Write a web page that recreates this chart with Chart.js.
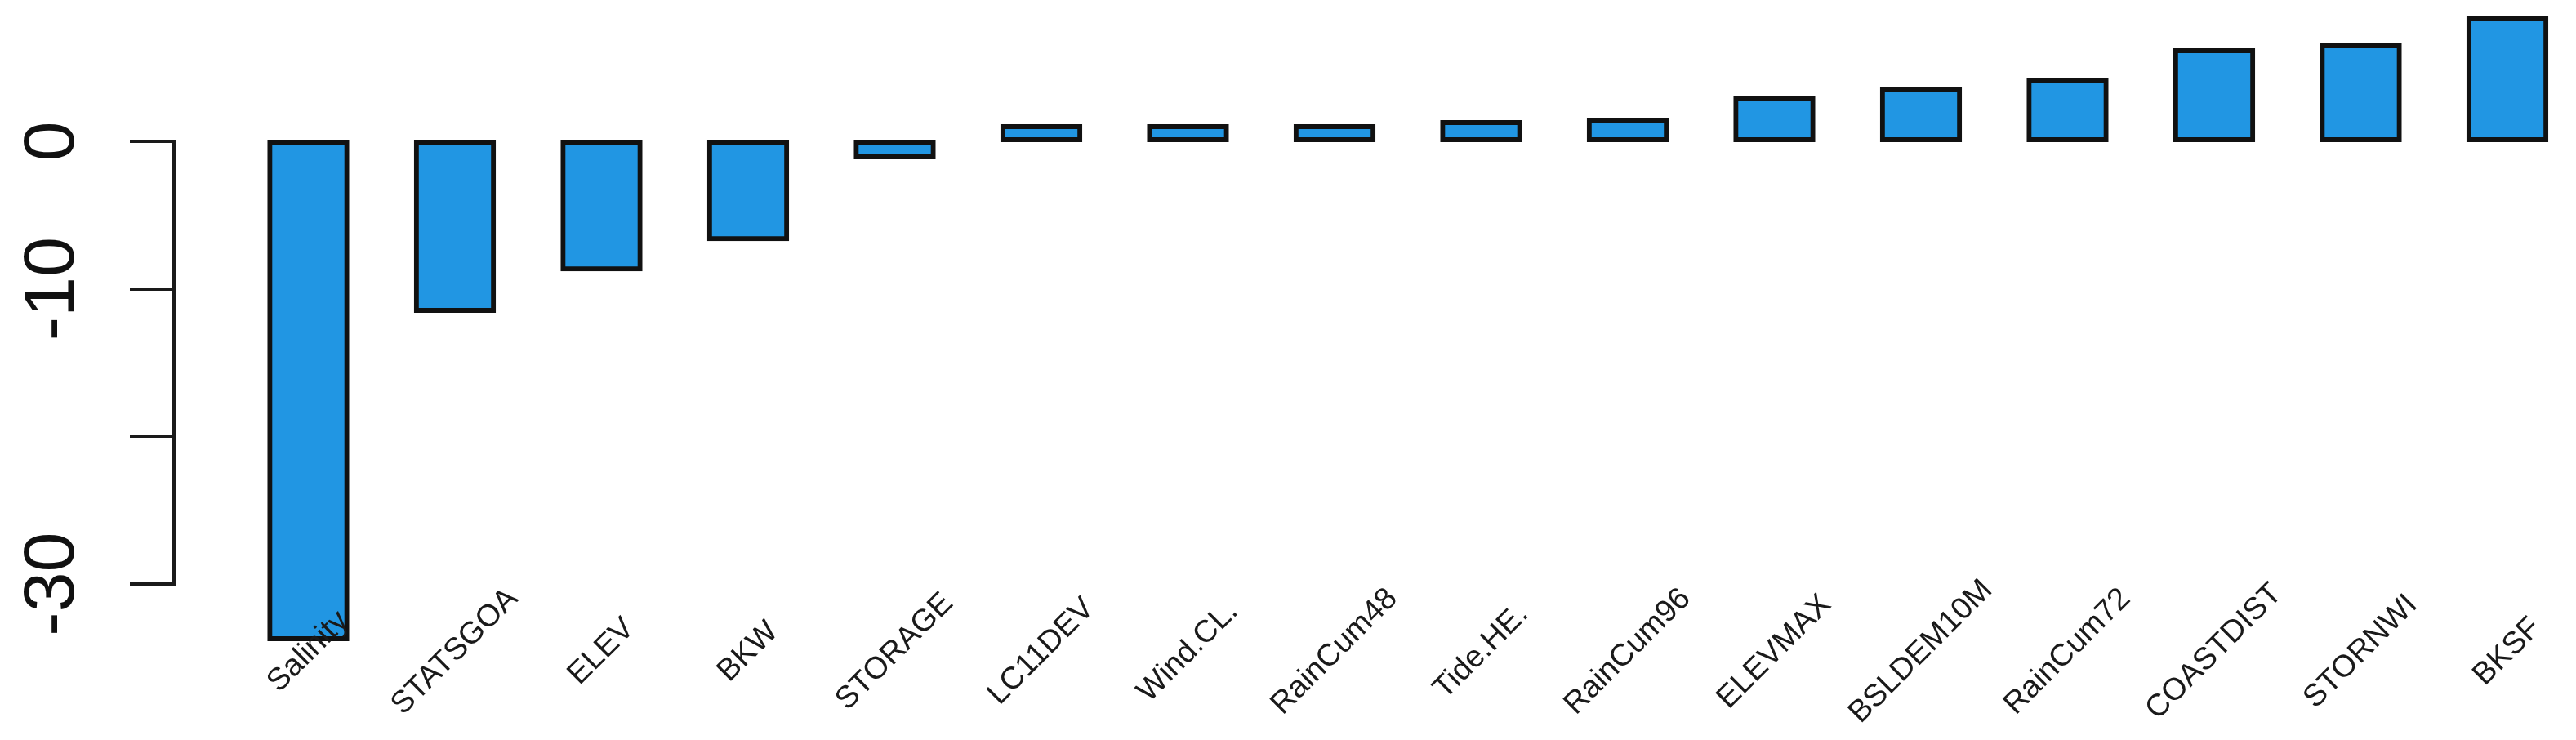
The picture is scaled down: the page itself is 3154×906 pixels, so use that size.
<!DOCTYPE html>
<html>
<head>
<meta charset="utf-8">
<script src="https://cdn.jsdelivr.net/npm/chart.js@4"></script>
<style>
  html, body { margin: 0; padding: 0; background: #ffffff; overflow: hidden; }
  canvas { display: block; }
</style>
</head>
<body>
<canvas id="grafico" width="3154" height="906"></canvas>
<script>
// datos
const categorias = ['Salinity', 'STATSGOA', 'ELEV', 'BKW', 'STORAGE', 'LC11DEV', 'Wind.CL.', 'RainCum48',
    'Tide.HE.', 'RainCum96', 'ELEVMAX', 'BSLDEM10M', 'RainCum72', 'COASTDIST', 'STORNWI', 'BKSF']
const valores = [-33.7, -11.45, -8.65, -6.6, -1.05, 1.0, 1.0, 1.0, 1.27, 1.44, 2.88, 3.49, 4.1, 6.14, 6.47, 8.3]
const ticksY = [0, -10, -20, -30]
const etiquetasY = ['0', '-10', '', '-30']

// dibuja el eje y (linea y etiquetas giradas) y las etiquetas giradas de las barras, al estilo de R
const ejesR = {
    id: 'ejesR',
    afterDraw(chart) {
        const ctx = chart.ctx
        const x = chart.scales.x
        const y = chart.scales.y
        const izq = chart.chartArea.left

        ctx.save()
        ctx.strokeStyle = '#1a1a1a'
        ctx.lineWidth = 5
        ctx.beginPath()
        ctx.moveTo(izq, y.getPixelForValue(ticksY[0]) - 2)
        ctx.lineTo(izq, y.getPixelForValue(ticksY[ticksY.length - 1]) + 2)
        ctx.stroke()

        ctx.fillStyle = '#111111'
        ctx.font = '88px "Liberation Sans", Arial, sans-serif'
        ctx.textAlign = 'center'
        ctx.textBaseline = 'alphabetic'
        ticksY.forEach((v, i) => {
            ctx.save()
            ctx.translate(90, y.getPixelForValue(v))
            ctx.rotate(-Math.PI / 2)
            ctx.fillText(etiquetasY[i], 0, 0)
            ctx.restore()
        })

        ctx.fillStyle = '#1a1a1a'
        ctx.font = '38px "Liberation Sans", Arial, sans-serif'
        ctx.textBaseline = 'middle'
        categorias.forEach((c, i) => {
            ctx.save()
            ctx.translate(x.getPixelForValue(i), 798)
            ctx.rotate(-Math.PI / 4)
            ctx.fillText(c, 0, 0)
            ctx.restore()
        })
        ctx.restore()
    }
}

new Chart(document.getElementById('grafico'), {
    type: 'bar',
    data: {
        datasets: [{
            data: categorias.map((c, i) => ({ x: i, y: valores[i] })),
            backgroundColor: '#2196e3',
            borderColor: '#111111',
            borderWidth: 6,
            inflateAmount: 3,
            borderSkipped: false,
            barPercentage: 0.574,
            categoryPercentage: 1
        }]
    },
    options: {
        responsive: false,
        animation: false,
        devicePixelRatio: 1,
        layout: { padding: { left: 159, right: 0, top: 0, bottom: 106 } },
        plugins: {
            legend: { display: false },
            tooltip: { enabled: false }
        },
        scales: {
            x: {
                type: 'linear',
                display: false,
                offset: false,
                min: -0.9164,
                max: 15.468
            },
            y: {
                min: -34.7,
                max: 9.574,
                afterFit: (escala) => { escala.width = 54 },
                afterBuildTicks: (escala) => { escala.ticks = ticksY.map(v => ({ value: v })) },
                border: { display: false },
                grid: { drawOnChartArea: false, drawTicks: true, tickLength: 54, color: '#1a1a1a', lineWidth: 4 },
                ticks: { display: false }
            }
        }
    },
    plugins: [ejesR]
})
</script>
</body>
</html>
